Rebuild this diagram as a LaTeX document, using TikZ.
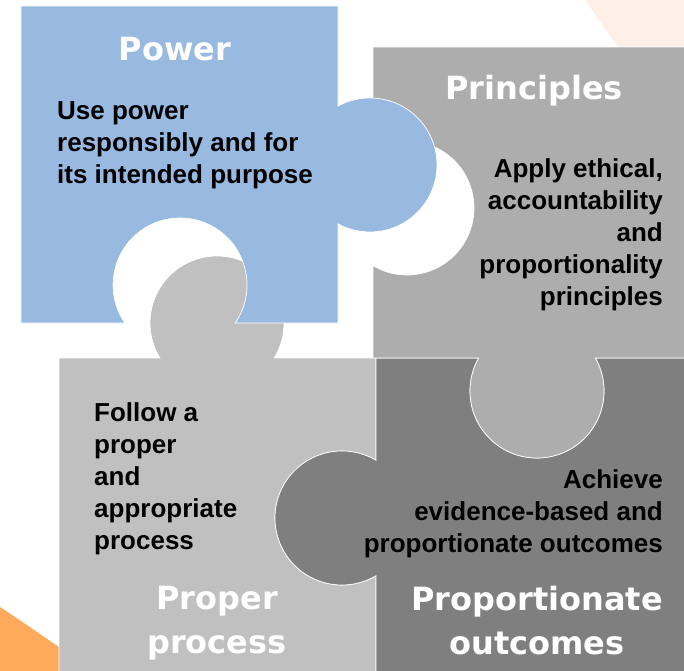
\documentclass[tikz,border=0pt]{standalone}
\usepackage{fontspec}
\setmainfont{Liberation Sans}
\newfontfamily\titlefont{DejaVu Sans}
\usepackage{tikz}
\usetikzlibrary{positioning}

\definecolor{powerblue}{HTML}{98B9E0}
\definecolor{princgray}{HTML}{ADADAD}
\definecolor{procgray}{HTML}{C0C0C0}
\definecolor{outgray}{HTML}{7F7F7F}
\definecolor{peach}{HTML}{FEEFE7}
\definecolor{deeporange}{HTML}{FEA95B}

\begin{document}
\begin{tikzpicture}[x=1pt, y=-1pt,
		piece/.style={draw=white, line width=0.7pt},
		title/.style={text=white, inner sep=0pt, align=center,
			font=\titlefont\bfseries\fontsize{32}{44}\selectfont},
		body/.style={text=black, inner sep=0pt,
			font=\bfseries\fontsize{26}{32}\selectfont}]
	\useasboundingbox (0,0) rectangle (684,670);
	\clip (0,0) rectangle (684,670);
	% Sfondo
	\fill[peach] (585,0) -- (624,56) -- (690,56) -- (690,0) -- cycle;
	\fill[deeporange] (0,607) .. controls (30,627) .. (66,652) -- (66,680) -- (0,680) -- cycle;
	% Pezzo in basso a sinistra
	\filldraw[piece, fill=procgray] (59,358) -- (159.9,358)
		arc[start angle=148.5, end angle=391.5, radius=67] -- (376,358) -- (376,460.3)
		arc[start angle=-59.5, end angle=-300.5, radius=67] -- (376,690) -- (59,690) -- cycle;
	% Pezzo in basso a destra
	\filldraw[piece, fill=outgray] (376,358) -- (478.7,358)
		arc[start angle=209.5, end angle=-29.5, radius=67] -- (690,358) -- (690,690) -- (376,690) -- (376,575.7)
		arc[start angle=59.5, end angle=300.5, radius=67] -- cycle;
	% Pezzo in alto a destra
	\filldraw[piece, fill=princgray] (373,47) -- (690,47) -- (690,358) -- (595.3,358)
		arc[start angle=-29.5, end angle=209.5, radius=67] -- (373,358) -- (373,265.7)
		arc[start angle=120.5, end angle=-120.5, radius=67] -- cycle;
	% Pezzo in alto a sinistra
	\filldraw[piece, fill=powerblue] (21,6) -- (338,6) -- (338,106.1)
		arc[start angle=-118.5, end angle=118.5, radius=67] -- (338,323) -- (235.2,323)
		arc[start angle=34.55, end angle=-214.55, radius=67] -- (21,323) -- cycle;
	% Titoli
	\node[title, anchor=base] (powertitle) at (175,60.7) {Power};
	\node[title, anchor=base] (princtitle) at (534,99) {Principles};
	\node[title, anchor=north] (proctitle) at (217,585.7) {Proper\\process};
	\node[title, anchor=north] (outtitle) at (537,585.7) {Proportionate\\outcomes};
	% Testi
	\node[body, align=left, anchor=north west] (powertext) at (57,101.4)
		{Use power\\responsibly and for\\its intended purpose};
	\node[body, align=right, anchor=north east] (princtext) at (663,158.8)
		{Apply ethical,\\accountability\\and\\proportionality\\principles};
	\node[body, align=left, anchor=north west] (proctext) at (94,402.4)
		{Follow a\\proper\\and\\appropriate\\process};
	\node[body, align=right, anchor=north east] (outtext) at (663,469.4)
		{Achieve\\evidence-based and\\proportionate outcomes};
\end{tikzpicture}
\end{document}
